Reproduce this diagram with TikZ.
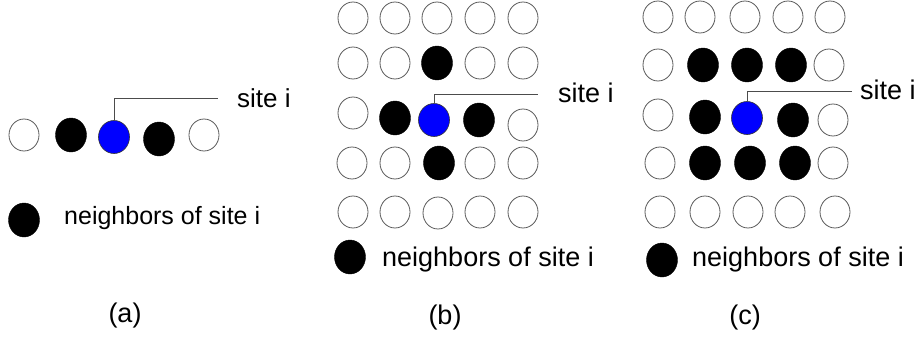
\documentclass[tikz,border=0pt]{standalone}
\usepackage{fontspec}
\setmainfont{Liberation Sans}
\usetikzlibrary{shapes.geometric}

\tikzset{
  site/.style={ellipse, draw=black!65, line width=0.8pt, fill=white, minimum width=30pt, minimum height=32pt, inner sep=0pt},
  nbr/.style={ellipse, draw=black, fill=black, minimum width=31pt, minimum height=34pt, inner sep=0pt},
  ctr/.style={ellipse, draw=black!80, line width=0.6pt, fill=blue, minimum width=31pt, minimum height=33pt, inner sep=0pt},
  lead/.style={draw=black!70, line width=0.8pt},
  lbl/.style={font=\fontsize{27}{32}\selectfont, inner sep=0pt}
}

\begin{document}
\begin{tikzpicture}[x=1pt,y=-1pt]
    \useasboundingbox (0,0) rectangle (918,340);

    % (a) one dimension
    \foreach \x/\y/\s [count=\i] in {24/135/site,71/135/nbr,114/137/ctr,159/139/nbr,204/135/site}
      \node[\s] (a\i) at (\x,\y) {};
    \coordinate (ta) at (218,98);
    \draw[lead] (a3.north) |- (ta);
    \node[lbl, font=\fontsize{26}{31}\selectfont, anchor=west] (sa) at (237,98) {site i};
    \node[nbr] (ka) at (24,220) {};
    \node[lbl, font=\fontsize{25}{30}\selectfont, anchor=west] (la) at (64,218) {neighbors of site i};
    \node[lbl] (capa) at (125,316) {(a)};

    % (b) four neighbours
    \foreach \x/\y/\s [count=\i] in {353/18/site,395/18/site,437/18/site,480/18/site,523/18/site,
        353/63/site,395/63/site,437/63/nbr,480/63/site,523/63/site,
        353/113/site,395/118/nbr,434/120/ctr,479/120/nbr,523/125/site,
        352/163/site,395/163/site,439/163/nbr,480/163/site,523/163/site,
        353/212/site,395/212/site,438/213/site,480/212/site,523/212/site}
      \node[\s] (b\i) at (\x,\y) {};
    \coordinate (tb) at (538,94);
    \draw[lead] (b13.north) |- (tb);
    \node[lbl, anchor=west] (sb) at (558,93) {site i};
    \node[nbr] (kb) at (350,257) {};
    \node[lbl, anchor=west] (lb) at (382,260) {neighbors of site i};
    \node[lbl] (capb) at (445,318) {(b)};

    % (c) eight neighbours
    \foreach \x/\y/\s [count=\i] in {658/17/site,700/17/site,745/17/site,788/17/site,830/17/site,
        658/65/site,703/65/nbr,747/65/nbr,791/65/nbr,829/65/site,
        658/115/site,705/117/nbr,747/118/ctr,793/120/nbr,833/120/site,
        660/163/site,705/163/nbr,750/163/nbr,795/163/nbr,833/163/site,
        660/212/site,705/212/site,748/212/site,790/212/site,835/212/site}
      \node[\s] (c\i) at (\x,\y) {};
    \coordinate (tc) at (852,91);
    \draw[lead] (c13.north) |- (tc);
    \node[lbl, anchor=west] (sc) at (860,90) {site i};
    \node[nbr] (kc) at (662,260) {};
    \node[lbl, anchor=west] (lc) at (692,260) {neighbors of site i};
    \node[lbl] (capc) at (745,318) {(c)};
  \end{tikzpicture}
\end{document}
